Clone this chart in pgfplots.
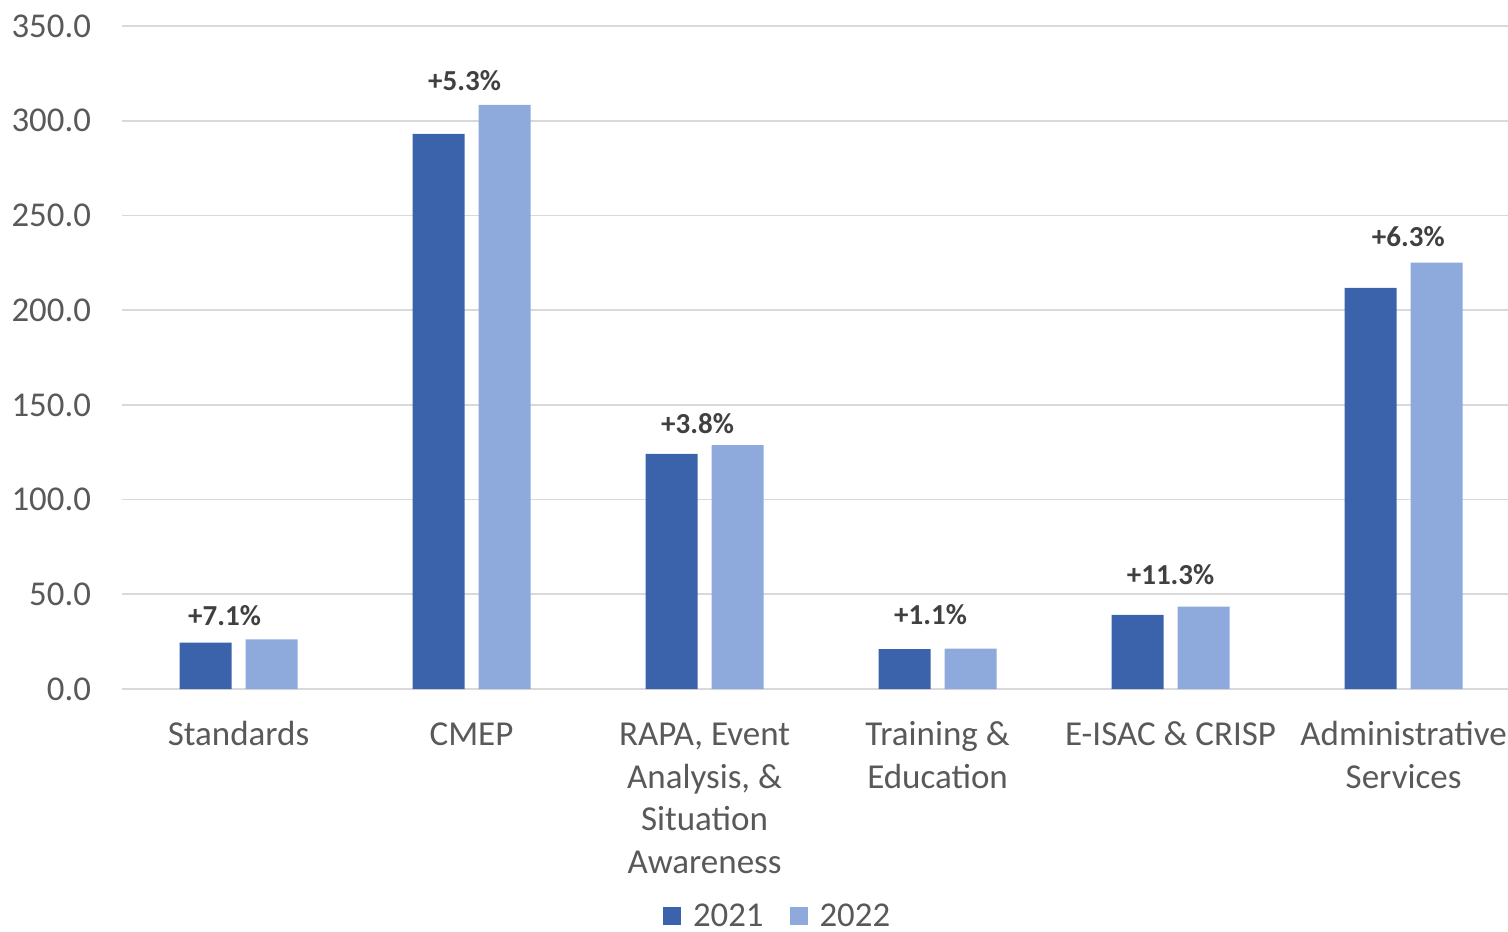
\documentclass[border=0pt]{standalone}
\usepackage{pgfplots}
\pgfplotsset{compat=1.18}
\usepackage{fontspec}
\setmainfont{Carlito}
\definecolor{c21}{HTML}{3A63AB}
\definecolor{c22}{HTML}{8EA9DB}
\definecolor{tickgray}{HTML}{595959}
\definecolor{labgray}{HTML}{404040}
\definecolor{gridgray}{HTML}{D9D9D9}
\begin{document}
\begin{tikzpicture}
\path[use as bounding box] (-61pt,-121pt) rectangle (693pt,344.5pt);
\begin{axis}[
  at={(0,0)}, anchor=south west,
  scale only axis, width=693pt, height=331.5pt,
  xmin=-0.5, xmax=5.448, ymin=0, ymax=350,
  axis line style={draw=none},
  major tick length=0pt,
  ytick={0,50,...,350},
  ymajorgrids, grid style={gridgray, line width=0.8pt},
  xtick={0,1,2,3,4,5},
  xticklabels={\strut Standards, \strut CMEP, {\strut RAPA, Event\\Analysis, \&\\Situation\\Awareness}, {\strut Training \&\\Education}, {\strut E-ISAC \& CRISP}, {\strut Administrative\\Services}},
  xticklabel style={align=center, anchor=north, font=\fontsize{17.5}{21.25}\selectfont, text=tickgray, yshift=-10pt},
  yticklabel style={font=\fontsize{17.4}{20}\selectfont, text=tickgray, xshift=-12pt},
  /pgf/number format/assume math mode=true,
  yticklabel={\pgfmathprintnumber[fixed, fixed zerofill, precision=1]{\tick}},
  legend style={at={(0.473,-0.343)}, anchor=center, draw=none, fill=none, legend columns=2,
    font=\fontsize{17.4}{20}\selectfont, text=tickgray, inner sep=1pt,
    nodes={inner sep=1pt},
    /tikz/every even column/.append style={column sep=12pt},
    /tikz/every odd column/.append style={column sep=5pt}},
  legend image code/.code={\fill[#1] (0pt,-4.5pt) rectangle (9pt,4.5pt);},
  clip=false,
]
\addplot[ybar, bar width=26pt, bar shift=-16.5pt, fill=c21, draw=none] coordinates {
  (0,24.5) (1,293.0) (2,124.1) (3,21.1) (4,39.1) (5,211.7)};
\addlegendentry{2021}
\addplot[ybar, bar width=26pt, bar shift=16.5pt, fill=c22, draw=none] coordinates {
  (0,26.2) (1,308.4) (2,128.8) (3,21.3) (4,43.5) (5,225.1)};
\addlegendentry{2022}
\addplot[draw=none, mark=none, forget plot, nodes near coords, point meta=explicit symbolic,
  every node near coord/.append style={anchor=center, font=\bfseries\fontsize{14.5}{16}\selectfont, text=labgray}]
  table[meta=lab, row sep=\\] {
  x y lab\\
  -0.06 38.5 +7.1\%\\
  0.97 321.0 +5.3\%\\
  1.97 139.9 +3.8\%\\
  2.97 39.1 +1.1\%\\
  4.0 60.2 +11.3\%\\
  5.02 238.6 +6.3\%\\
};
\end{axis}
\end{tikzpicture}
\end{document}
